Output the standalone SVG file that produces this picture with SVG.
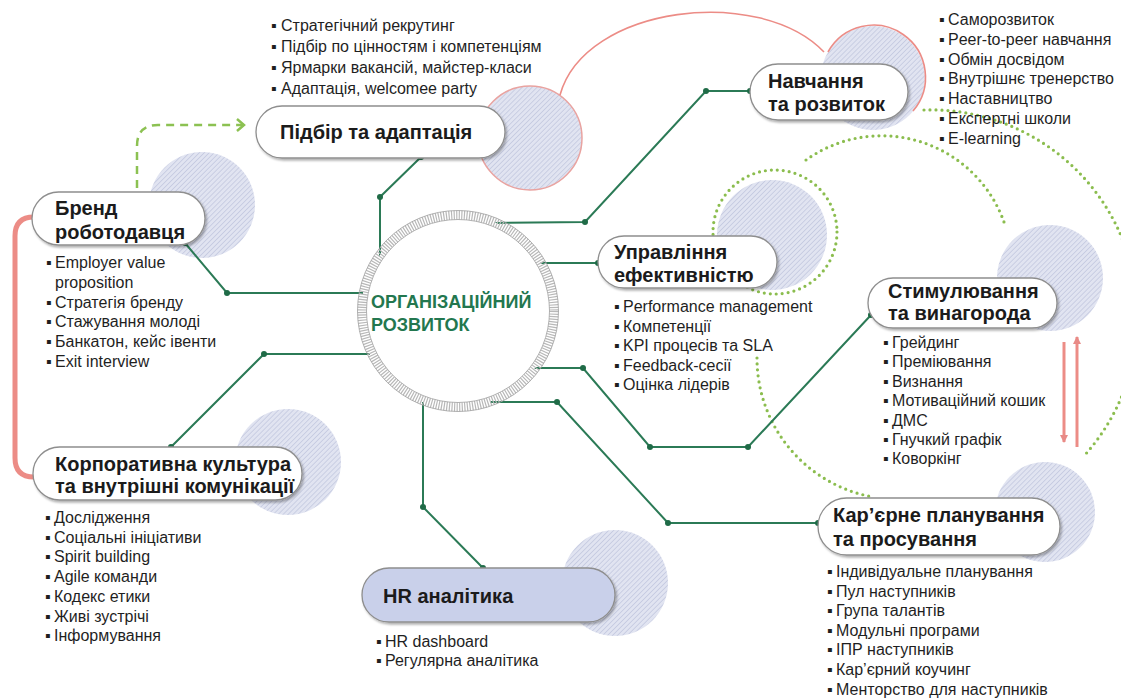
<svg xmlns="http://www.w3.org/2000/svg" width="1121" height="698" viewBox="0 0 1121 698">
<defs>
<pattern id="hatch" width="3.5" height="3.5" patternUnits="userSpaceOnUse" patternTransform="rotate(45)"><rect width="3.5" height="3.5" fill="#e1e4f1"/><line x1="0" y1="0" x2="0" y2="3.5" stroke="#bfc5de" stroke-width="1.4"/></pattern>
<filter id="sh" x="-10%" y="-20%" width="130%" height="160%"><feDropShadow dx="1.5" dy="2" stdDeviation="1.2" flood-color="#000" flood-opacity="0.3"/></filter>
<marker id="ra" markerWidth="8" markerHeight="8" refX="7" refY="4" orient="auto" markerUnits="userSpaceOnUse"><path d="M0,0 L8,4 L0,8 z" fill="#e88a86"/></marker>
<marker id="ga" markerWidth="12" markerHeight="14" refX="9" refY="7" orient="auto" markerUnits="userSpaceOnUse"><path d="M2,1 L9,7 L2,13" fill="none" stroke="#8cc152" stroke-width="2.5"/></marker>
</defs>
<style>
.pill{fill:#fff;stroke:#8e8e8e;stroke-width:1.3;filter:url(#sh)}
.hr{fill:#c9d0ea}
.lbl{font-family:"Liberation Sans",Arial,sans-serif;font-weight:bold;font-size:20px;fill:#1b1b1b}
.bl{font-family:"Liberation Sans",Arial,sans-serif;font-size:16px;fill:#1f1f1f}
.deco{fill:url(#hatch)}
.con{fill:none;stroke:#2b7a56;stroke-width:2}
.dot{fill:#1f6b47}
.dots{fill:none;stroke:#8bbd4e;stroke-width:3.2;stroke-linecap:round;stroke-dasharray:0 6}
.red{fill:none;stroke:#ec8c86}
.ctr{font-family:"Liberation Sans",Arial,sans-serif;font-weight:bold;font-size:18px;fill:#23774f}
</style>
<rect width="1121" height="698" fill="#fff"/>

<g id="decor">
<circle class="deco" cx="530" cy="138" r="52" stroke="#e9a3a0" stroke-width="1.5"/>
<circle class="deco" cx="873" cy="78" r="52"/>
<circle class="deco" cx="202" cy="205" r="53"/>
<circle class="deco" cx="772" cy="235" r="55"/>
<circle class="deco" cx="1050" cy="278" r="53"/>
<circle class="deco" cx="288" cy="462" r="53"/>
<circle class="deco" cx="615" cy="583" r="53"/>
<circle class="deco" cx="1045" cy="512" r="50"/>
</g>

<g id="dotted-arcs">
<circle class="dots" cx="775" cy="232" r="62"/>
<path class="dots" d="M 806 160 A 130 130 0 0 1 1004 222"/>
<path class="dots" d="M 924 110 A 207 207 0 0 1 1083 457"/>
<path class="dots" d="M 757 358 A 141 141 0 0 0 873 497"/>
</g>

<g id="red-links">
<path class="red" stroke-width="1.6" d="M 560 95 C 585 5, 760 -15, 824 52"/>
<path class="red" stroke-width="1.6" d="M 828 52 A 52 52 0 1 1 913 111"/>
<path class="red" stroke-width="5" d="M 34 217 Q 15 217 15 236 L 15 458 Q 15 477 34 477"/>
<line class="red" stroke-width="3" x1="1064" y1="342" x2="1064" y2="442" marker-end="url(#ra)"/>
<line class="red" stroke-width="3" x1="1077" y1="447" x2="1077" y2="337" marker-end="url(#ra)"/>
<path d="M 137 188 L 137 146 Q 137 125 158 125 L 244 125" fill="none" stroke="#8cc152" stroke-width="2.5" stroke-dasharray="8 6" marker-end="url(#ga)"/>
</g>

<g id="connectors">
<path class="con" d="M 380 256 L 380 197 L 421 157"/>
<path class="con" d="M 494 223 L 585 222 L 706 91 L 750 91"/>
<path class="con" d="M 540 263 L 598 263"/>
<path class="con" d="M 534 368 L 583 368 L 650 447 L 748 447 L 871 315"/>
<path class="con" d="M 490 402 L 557 402 L 668 523 L 818 523"/>
<path class="con" d="M 363 293 L 227 293 L 185 243"/>
<path class="con" d="M 370 354 L 264 354 L 171 447"/>
<path class="con" d="M 423 402 L 423 507 L 483 568"/>
<circle class="dot" cx="380" cy="197" r="3"/><circle class="dot" cx="421" cy="157" r="3"/>
<circle class="dot" cx="585" cy="222" r="3"/><circle class="dot" cx="706" cy="91" r="3"/><circle class="dot" cx="750" cy="91" r="3"/>
<circle class="dot" cx="598" cy="263" r="3"/>
<circle class="dot" cx="583" cy="368" r="3"/><circle class="dot" cx="650" cy="447" r="3"/><circle class="dot" cx="748" cy="447" r="3"/><circle class="dot" cx="871" cy="315" r="3"/>
<circle class="dot" cx="557" cy="402" r="3"/><circle class="dot" cx="668" cy="523" r="3"/><circle class="dot" cx="818" cy="523" r="3"/>
<circle class="dot" cx="227" cy="293" r="3"/><circle class="dot" cx="185" cy="243" r="3"/>
<circle class="dot" cx="264" cy="354" r="3"/><circle class="dot" cx="171" cy="447" r="3"/>
<circle class="dot" cx="423" cy="507" r="3"/><circle class="dot" cx="483" cy="568" r="3"/>
</g>

<g id="center">
<circle cx="458" cy="311" r="96" fill="#fff" stroke="#b8b8b8" stroke-width="9" stroke-dasharray="1.2 1.4"/>
<circle cx="458" cy="311" r="100.5" fill="none" stroke="#a0a0a0" stroke-width="0.8"/>
<circle cx="458" cy="311" r="91.5" fill="none" stroke="#a0a0a0" stroke-width="0.8"/>
<text class="ctr" x="371" y="308">ОРГАНІЗАЦІЙНИЙ</text>
<text class="ctr" x="371" y="331">РОЗВИТОК</text>
</g>

<g id="node-pidbir">
<rect class="pill" x="256" y="106" width="249" height="52" rx="26"/>
<text class="lbl" x="280" y="139">Підбір та адаптація</text>
<text class="bl" y="31"><tspan x="271">▪</tspan><tspan x="281">Стратегічний рекрутинг</tspan></text>
<text class="bl" y="52"><tspan x="271">▪</tspan><tspan x="281">Підбір по цінностям і компетенціям</tspan></text>
<text class="bl" y="73"><tspan x="271">▪</tspan><tspan x="281">Ярмарки вакансій, майстер-класи</tspan></text>
<text class="bl" y="94"><tspan x="271">▪</tspan><tspan x="281">Адаптація, welcomee party</tspan></text>
</g>

<g id="node-navchannia">
<rect class="pill" x="750" y="64" width="158" height="56" rx="28"/>
<text class="lbl" x="768" y="88">Навчання</text>
<text class="lbl" x="768" y="111">та розвиток</text>
<text class="bl" y="25"><tspan x="939">▪</tspan><tspan x="948">Саморозвиток</tspan></text>
<text class="bl" y="44.8"><tspan x="939">▪</tspan><tspan x="948">Peer-to-peer навчання</tspan></text>
<text class="bl" y="64.6"><tspan x="939">▪</tspan><tspan x="948">Обмін досвідом</tspan></text>
<text class="bl" y="84.4"><tspan x="939">▪</tspan><tspan x="948">Внутрішнє тренерство</tspan></text>
<text class="bl" y="104.2"><tspan x="939">▪</tspan><tspan x="948">Наставництво</tspan></text>
<text class="bl" y="124"><tspan x="939">▪</tspan><tspan x="948">Експертні школи</tspan></text>
<text class="bl" y="143.8"><tspan x="939">▪</tspan><tspan x="948">E-learning</tspan></text>
</g>

<g id="node-brend">
<rect class="pill" x="32" y="192" width="173" height="53" rx="26.5"/>
<text class="lbl" x="55" y="215">Бренд</text>
<text class="lbl" x="55" y="239">роботодавця</text>
<text class="bl" y="268"><tspan x="46">▪</tspan><tspan x="55">Employer value</tspan></text>
<text class="bl" y="287.8"><tspan x="55">proposition</tspan></text>
<text class="bl" y="307.6"><tspan x="46">▪</tspan><tspan x="55">Стратегія бренду</tspan></text>
<text class="bl" y="327.4"><tspan x="46">▪</tspan><tspan x="55">Стажування молоді</tspan></text>
<text class="bl" y="347.2"><tspan x="46">▪</tspan><tspan x="55">Банкатон, кейс івенти</tspan></text>
<text class="bl" y="367"><tspan x="46">▪</tspan><tspan x="55">Exit interview</tspan></text>
</g>

<g id="node-upravlinnia">
<rect class="pill" x="598" y="236" width="179" height="52" rx="26"/>
<text class="lbl" x="614" y="259">Управління</text>
<text class="lbl" x="614" y="282">ефективністю</text>
<text class="bl" y="312"><tspan x="614">▪</tspan><tspan x="623">Performance management</tspan></text>
<text class="bl" y="331.5"><tspan x="614">▪</tspan><tspan x="623">Компетенції</tspan></text>
<text class="bl" y="351"><tspan x="614">▪</tspan><tspan x="623">KPI процесів та SLA</tspan></text>
<text class="bl" y="370.5"><tspan x="614">▪</tspan><tspan x="623">Feedback-сесії</tspan></text>
<text class="bl" y="390"><tspan x="614">▪</tspan><tspan x="623">Оцінка лідерів</tspan></text>
</g>

<g id="node-stymuliuvannia">
<rect class="pill" x="868" y="278" width="189" height="50" rx="25"/>
<text class="lbl" x="888" y="298">Стимулювання</text>
<text class="lbl" x="888" y="320">та винагорода</text>
<text class="bl" y="348"><tspan x="883">▪</tspan><tspan x="892">Грейдинг</tspan></text>
<text class="bl" y="367.4"><tspan x="883">▪</tspan><tspan x="892">Преміювання</tspan></text>
<text class="bl" y="386.8"><tspan x="883">▪</tspan><tspan x="892">Визнання</tspan></text>
<text class="bl" y="406.2"><tspan x="883">▪</tspan><tspan x="892">Мотиваційний кошик</tspan></text>
<text class="bl" y="425.6"><tspan x="883">▪</tspan><tspan x="892">ДМС</tspan></text>
<text class="bl" y="445"><tspan x="883">▪</tspan><tspan x="892">Гнучкий графік</tspan></text>
<text class="bl" y="464.4"><tspan x="883">▪</tspan><tspan x="892">Коворкінг</tspan></text>
</g>

<g id="node-kultura">
<rect class="pill" x="33" y="447" width="269" height="53" rx="26.5"/>
<text class="lbl" x="55" y="471">Корпоративна культура</text>
<text class="lbl" x="55" y="493">та внутрішні комунікації</text>
<text class="bl" y="523"><tspan x="45">▪</tspan><tspan x="54">Дослідження</tspan></text>
<text class="bl" y="542.7"><tspan x="45">▪</tspan><tspan x="54">Соціальні ініціативи</tspan></text>
<text class="bl" y="562.4"><tspan x="45">▪</tspan><tspan x="54">Spirit building</tspan></text>
<text class="bl" y="582.1"><tspan x="45">▪</tspan><tspan x="54">Agile команди</tspan></text>
<text class="bl" y="601.8"><tspan x="45">▪</tspan><tspan x="54">Кодекс етики</tspan></text>
<text class="bl" y="621.5"><tspan x="45">▪</tspan><tspan x="54">Живі зустрічі</tspan></text>
<text class="bl" y="641.2"><tspan x="45">▪</tspan><tspan x="54">Інформування</tspan></text>
</g>

<g id="node-hr">
<rect class="pill hr" x="362" y="568" width="253" height="54" rx="27"/>
<text class="lbl" x="383" y="603">HR аналітика</text>
<text class="bl" y="647"><tspan x="376">▪</tspan><tspan x="385">HR dashboard</tspan></text>
<text class="bl" y="666"><tspan x="376">▪</tspan><tspan x="385">Регулярна аналітика</tspan></text>
</g>

<g id="node-kariera">
<rect class="pill" x="818" y="498" width="242" height="57" rx="28.5"/>
<text class="lbl" x="833" y="522">Кар’єрне планування</text>
<text class="lbl" x="833" y="546">та просування</text>
<text class="bl" y="577"><tspan x="827">▪</tspan><tspan x="836">Індивідуальне планування</tspan></text>
<text class="bl" y="596.6"><tspan x="827">▪</tspan><tspan x="836">Пул наступників</tspan></text>
<text class="bl" y="616.2"><tspan x="827">▪</tspan><tspan x="836">Група талантів</tspan></text>
<text class="bl" y="635.8"><tspan x="827">▪</tspan><tspan x="836">Модульні програми</tspan></text>
<text class="bl" y="655.4"><tspan x="827">▪</tspan><tspan x="836">ІПР наступників</tspan></text>
<text class="bl" y="675"><tspan x="827">▪</tspan><tspan x="836">Кар’єрний коучинг</tspan></text>
<text class="bl" y="694.6"><tspan x="827">▪</tspan><tspan x="836">Менторство для наступників</tspan></text>
</g>
</svg>
